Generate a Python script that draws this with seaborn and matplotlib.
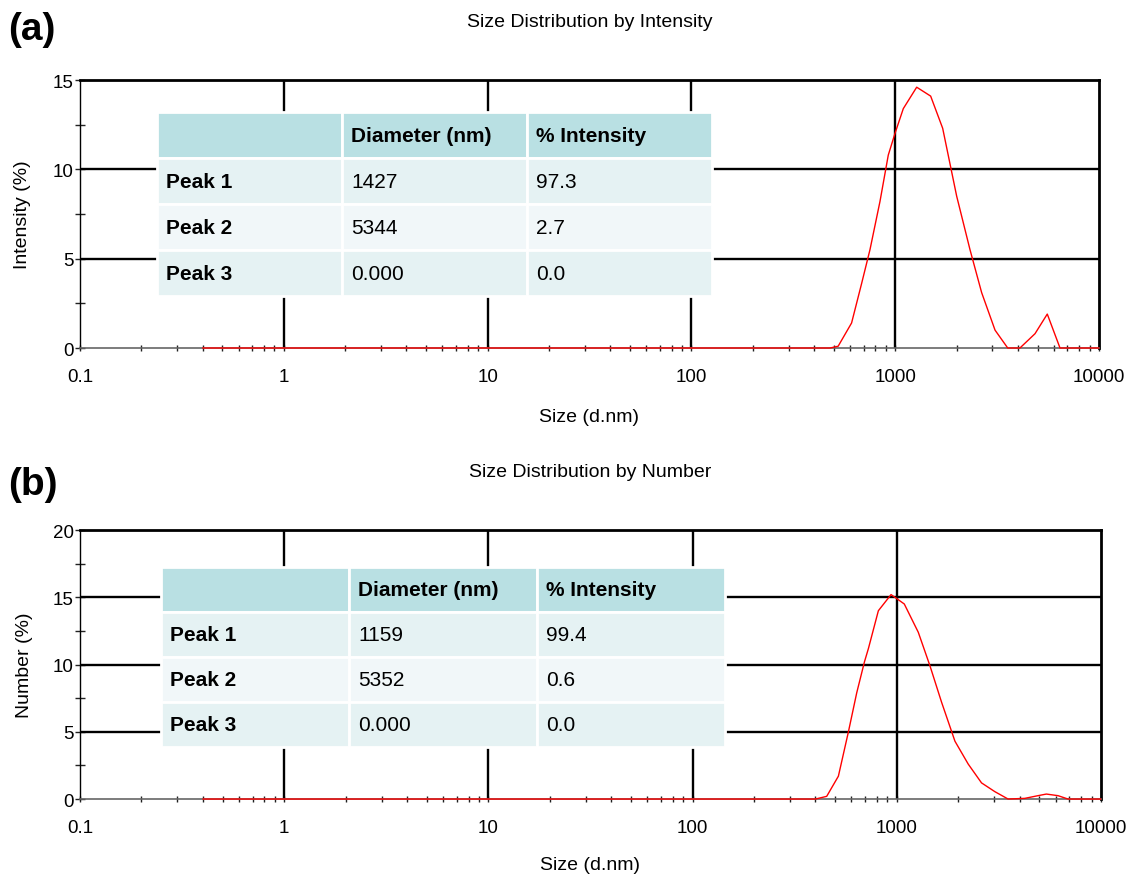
import pandas as pd
import matplotlib
matplotlib.use('Agg')
import matplotlib.pyplot as plt
import seaborn as sns
from matplotlib.ticker import MultipleLocator, LogLocator, NullFormatter

# Size distribution data
size_a = [0.4, 479, 525, 611, 684, 752, 842, 925, 997, 1096, 1275, 1493, 1710,
          2003, 2329, 2656, 3090, 3566, 4093, 4853, 5575, 6437, 10000]
intensity_a = [0, 0, 0.1, 1.4, 3.6, 5.5, 8.2, 10.8, 12.0, 13.4, 14.6, 14.1, 12.3,
               8.5, 5.5, 3.1, 1.0, 0, 0, 0.8, 1.9, 0, 0]

size_b = [0.4, 400, 454, 518, 580, 637, 695, 727, 813, 938, 1089, 1275, 1455,
          1658, 1928, 2239, 2602, 3023, 3510, 4237, 4920, 5405, 6166, 6900, 10000]
number_b = [0, 0, 0.2, 1.7, 5.0, 7.9, 10.2, 11.2, 14.0, 15.2, 14.5, 12.4, 9.9,
            7.2, 4.3, 2.6, 1.2, 0.55, 0, 0.05, 0.25, 0.37, 0.25, 0, 0]

# Peak tables
peak_names = ['Peak 1', 'Peak 2', 'Peak 3']
table_header = ['', 'Diameter (nm)', '% Intensity']
diam_a = ['1427', '5344', '0.000']
pct_a = ['97.3', '2.7', '0.0']
diam_b = ['1159', '5352', '0.000']
pct_b = ['99.4', '0.6', '0.0']

decades = [0.1, 1, 10, 100, 1000, 10000]
decade_labels = ['0.1', '1', '10', '100', '1000', '10000']

sns.set_style('white')
plt.rcParams['font.family'] = ['Liberation Sans', 'DejaVu Sans']
plt.rcParams['text.color'] = 'black'
plt.rcParams['axes.labelcolor'] = 'black'
plt.rcParams['xtick.color'] = 'black'
plt.rcParams['ytick.color'] = 'black'

fig = plt.figure(figsize=(11.31, 8.78), dpi=100)
ax_a = fig.add_axes([0.0707, 0.6025, 0.901, 0.3052])
ax_b = fig.add_axes([0.0707, 0.0888, 0.9027, 0.3064])

df_a = pd.DataFrame({'size': size_a, 'value': intensity_a})
df_b = pd.DataFrame({'size': size_b, 'value': number_b})

header_col = '#b9e0e3'
row_cols = ['#e5f2f3', '#f1f7f9', '#e5f2f3']


def style_axis(ax, ymax, ylabel, title, ylab_x, xlab_y):
    ax.set_xscale('log')
    ax.set_xlim(0.1, 10000)
    ax.set_ylim(0, ymax)
    ax.set_xticks(decades, labels=decade_labels)
    ax.xaxis.set_minor_locator(LogLocator(base=10, subs=range(2, 10)))
    ax.xaxis.set_minor_formatter(NullFormatter())
    ax.yaxis.set_major_locator(MultipleLocator(5))
    ax.yaxis.set_minor_locator(MultipleLocator(2.5))
    ax.tick_params(axis='x', which='both', bottom=True, direction='inout', length=5,
                   width=1, color='#222222', labelsize=13.5, pad=12)
    ax.tick_params(axis='y', which='both', left=True, direction='inout', length=7,
                   width=1, color='#222222', labelsize=13.5, pad=1)
    # major grid lines (skip the frame edges)
    for d in decades[1:-1]:
        ax.axvline(d, color='black', lw=1.7, zorder=1)
    for yv in range(5, ymax, 5):
        ax.axhline(yv, color='black', lw=1.7, zorder=1)
    for side in ['top', 'right']:
        ax.spines[side].set_linewidth(2)
        ax.spines[side].set_color('black')
    ax.spines['left'].set_linewidth(1)
    ax.spines['left'].set_color('black')
    ax.spines['bottom'].set_color('#666666')
    ax.spines['bottom'].set_linewidth(1.2)
    ax.set_title(title, fontsize=14, pad=39)
    ax.set_xlabel('Size (d.nm)', fontsize=14)
    ax.set_ylabel(ylabel, fontsize=14)
    ax.xaxis.set_label_coords(0.5, xlab_y)
    ax.yaxis.set_label_coords(ylab_x, 0.5)


def add_table(ax, diam, pct, bbox):
    rows = [table_header] + [[p, d, v] for p, d, v in zip(peak_names, diam, pct)]
    tab = ax.table(cellText=rows, cellLoc='left', bbox=bbox)
    tab.auto_set_font_size(False)
    tab.set_fontsize(15)
    tab.set_zorder(5)
    for (r, c), cell in tab.get_celld().items():
        cell.set_edgecolor('white')
        cell.set_linewidth(2)
        cell.PAD = 0.05
        cell.set_facecolor(header_col if r == 0 else row_cols[r - 1])
        cell.get_text().set_color('black')
        if r == 0 or c == 0:
            cell.get_text().set_fontweight('bold')


sns.lineplot(data=df_a, x='size', y='value', ax=ax_a, color='red', lw=1,
             estimator=None, sort=False, zorder=4, clip_on=False)
style_axis(ax_a, 15, 'Intensity (%)', 'Size Distribution by Intensity', -0.048, -0.225)
add_table(ax_a, diam_a, pct_a, [0.0756, 0.194, 0.5446, 0.6866])

sns.lineplot(data=df_b, x='size', y='value', ax=ax_b, color='red', lw=1,
             estimator=None, sort=False, zorder=4, clip_on=False)
style_axis(ax_b, 20, 'Number (%)', 'Size Distribution by Number', -0.046, -0.212)
add_table(ax_b, diam_b, pct_b, [0.0793, 0.1933, 0.5524, 0.669])

fig.text(0.007, 1 - 12 / 878, '(a)', fontsize=28, fontweight='bold', va='top')
fig.text(0.007, 1 - 467 / 878, '(b)', fontsize=28, fontweight='bold', va='top')

plt.savefig('out.png', dpi=100)
